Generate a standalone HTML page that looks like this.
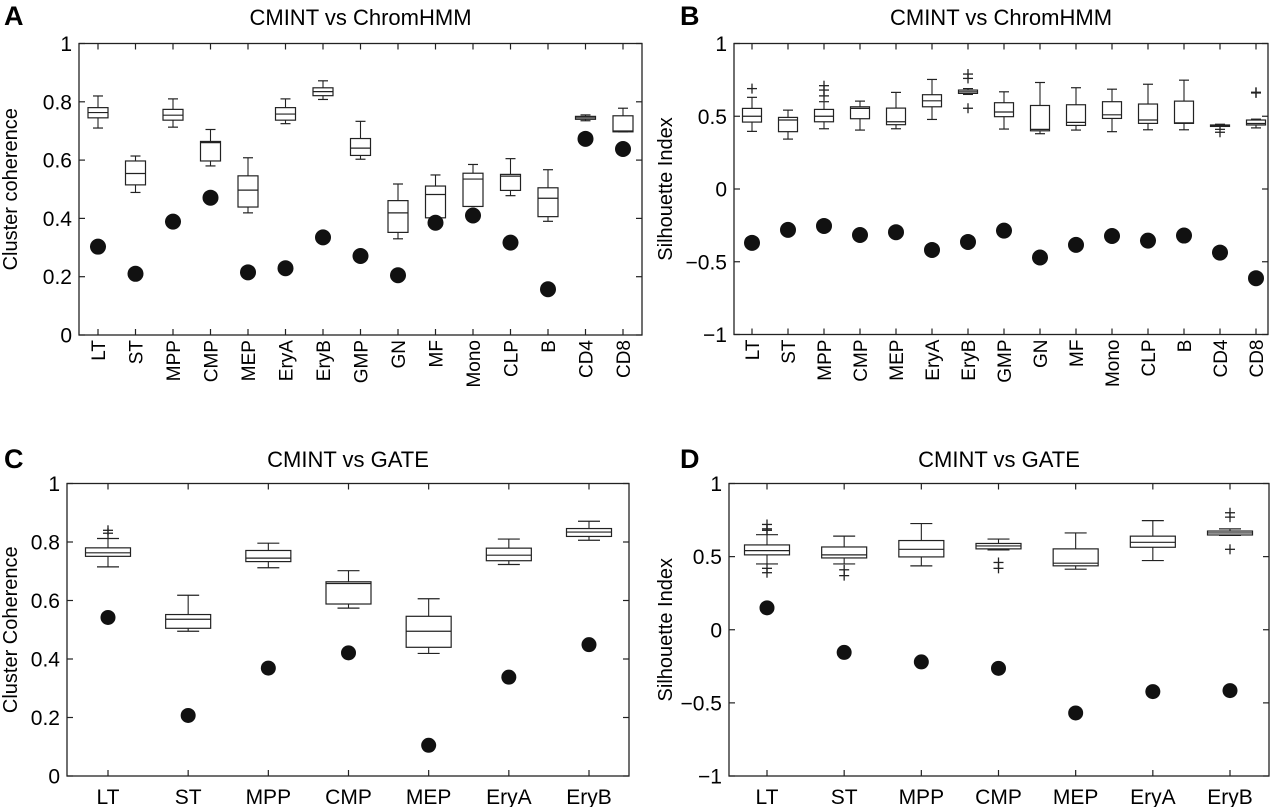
<!DOCTYPE html>
<html><head><meta charset="utf-8"><style>
body{margin:0;background:#fff;}
svg{display:block;font-family:"Liberation Sans",Arial,sans-serif;}
</style></head><body>
<svg id="fig" width="1280" height="807" viewBox="0 0 1280 807" xmlns="http://www.w3.org/2000/svg">
<g id="panels"></g>
</svg>
<script>
// ---------- Panel A data ----------
const catsA = ["LT","ST","MPP","CMP","MEP","EryA","EryB","GMP","GN","MF","Mono","CLP","B","CD4","CD8"];
const loWA = [0.71,0.489,0.713,0.58,0.419,0.725,0.808,0.603,0.33,0.402,0.441,0.478,0.39,0.735,0.697];
const q1A  = [0.745,0.515,0.737,0.597,0.439,0.737,0.821,0.616,0.352,0.402,0.441,0.496,0.406,0.74,0.697];
const medA = [0.763,0.554,0.754,0.66,0.497,0.758,0.835,0.641,0.419,0.482,0.535,0.545,0.469,0.745,0.70];
const q3A  = [0.78,0.597,0.774,0.664,0.546,0.78,0.848,0.674,0.461,0.511,0.555,0.551,0.505,0.75,0.752];
const hiWA = [0.82,0.614,0.81,0.705,0.608,0.81,0.872,0.733,0.518,0.549,0.585,0.605,0.567,0.755,0.778];
const dotA = [0.303,0.21,0.389,0.471,0.215,0.229,0.335,0.271,0.205,0.385,0.41,0.317,0.157,0.673,0.638];
const outA = [[],[],[],[],[],[],[],[],[],[],[],[],[],[],[]];
const ticksA = [0,0.2,0.4,0.6,0.8,1];
const tickLabA = ["0","0.2","0.4","0.6","0.8","1"];

// ---------- Panel B data ----------
const catsB = catsA;
const loWB = [0.396,0.343,0.414,0.405,0.414,0.478,0.65,0.412,0.38,0.405,0.394,0.407,0.407,0.41,0.42];
const q1B  = [0.46,0.394,0.462,0.483,0.442,0.565,0.657,0.497,0.40,0.437,0.485,0.451,0.451,0.43,0.44];
const medB = [0.50,0.474,0.50,0.554,0.462,0.606,0.668,0.529,0.41,0.458,0.51,0.474,0.455,0.435,0.45];
const q3B  = [0.554,0.492,0.547,0.565,0.556,0.648,0.68,0.593,0.574,0.579,0.60,0.584,0.604,0.44,0.474];
const hiWB = [0.63,0.542,0.60,0.604,0.664,0.753,0.69,0.668,0.732,0.696,0.686,0.72,0.748,0.445,0.48];
const dotB = [-0.37,-0.281,-0.254,-0.316,-0.297,-0.419,-0.364,-0.286,-0.471,-0.384,-0.323,-0.355,-0.32,-0.437,-0.613];
const outB = [[0.69],[],[0.64,0.68,0.71],[],[],[],[0.79,0.76,0.555],[],[],[],[],[],[],[0.39],[0.665,0.66]];
const ticksB = [-1,-0.5,0,0.5,1];
const tickLabB = ["\u22121","\u22120.5","0","0.5","1"];

// ---------- Panel C data ----------
const catsC = ["LT","ST","MPP","CMP","MEP","EryA","EryB"];
const loWC = [0.715,0.495,0.712,0.574,0.419,0.723,0.806];
const q1C  = [0.751,0.505,0.733,0.588,0.44,0.736,0.819];
const medC = [0.763,0.536,0.745,0.658,0.495,0.755,0.834];
const q3C  = [0.78,0.552,0.771,0.664,0.546,0.779,0.846];
const hiWC = [0.812,0.618,0.796,0.702,0.606,0.81,0.871];
const dotC = [0.542,0.207,0.369,0.421,0.105,0.338,0.449];
const outC = [[0.83,0.84],[],[],[],[],[],[]];
const ticksC = [0,0.2,0.4,0.6,0.8,1];
const tickLabC = ["0","0.2","0.4","0.6","0.8","1"];

// ---------- Panel D data ----------
const catsD = catsC;
const loWD = [0.45,0.45,0.437,0.546,0.414,0.473,0.645];
const q1D  = [0.512,0.491,0.498,0.553,0.437,0.564,0.648];
const medD = [0.541,0.512,0.55,0.573,0.455,0.598,0.662];
const q3D  = [0.58,0.566,0.61,0.59,0.553,0.64,0.675];
const hiWD = [0.65,0.64,0.726,0.62,0.662,0.746,0.69];
const dotD = [0.15,-0.155,-0.22,-0.264,-0.569,-0.423,-0.416];
const outD = [[0.72,0.69,0.68,0.42,0.39],[0.41,0.37],[],[0.46,0.42],[],[],[0.8,0.77,0.55]];
const ticksD = [-1,-0.5,0,0.5,1];
const tickLabD = ["\u22121","\u22120.5","0","0.5","1"];

const NS="http://www.w3.org/2000/svg";
const root=document.getElementById('panels');
function mk(tag,attrs,parent){const e=document.createElementNS(NS,tag);for(const k in attrs)e.setAttribute(k,attrs[k]);(parent||root).appendChild(e);return e;}

function drawPanel(p){
  const g=mk('g',{});
  
  
  const yS=v=>p.y1+(p.ymax-v)/(p.ymax-p.ymin)*(p.y2-p.y1);
  const step=(p.xLast-p.xFirst)/(p.cats.length-1);
  const xS=i=>p.xFirst+i*step;
  const L=mk('text',{x:p.letterX,y:p.letterY,'font-size':27,'font-weight':'bold'},g);L.textContent=p.letter;
  
  
  const T=mk('text',{x:(p.x1+p.x2)/2,y:p.titleY,'font-size':22,'text-anchor':'middle'},g);T.textContent=p.title;
  
  
  const YT=mk('text',{x:0,y:0,'font-size':20,'text-anchor':'middle',transform:`translate(${p.ytX},${(p.y1+p.y2)/2}) rotate(-90)`},g);YT.textContent=p.ytitle;
  
  
  const F=mk('rect',{x:p.x1,y:p.y1,width:p.x2-p.x1,height:p.y2-p.y1,fill:'none',stroke:'#222','stroke-width':1.3},g);
  
  
  p.ticks.forEach((t,i)=>{
    const y=yS(t);
    mk('line',{x1:p.x1,x2:p.x1+6,y1:y,y2:y,stroke:'#222','stroke-width':1.2},g);
    mk('line',{x1:p.x2,x2:p.x2-6,y1:y,y2:y,stroke:'#222','stroke-width':1.2},g);
    const tl=mk('text',{x:p.x1-7,y:y+7.5,'font-size':21,'text-anchor':'end'},g);tl.textContent=p.tickLab[i];
    
    
  });
  p.cats.forEach((c,i)=>{
    const x=xS(i);
    mk('line',{x1:x,x2:x,y1:p.y2,y2:p.y2-6,stroke:'#222','stroke-width':1.2},g);
    mk('line',{x1:x,x2:x,y1:p.y1,y2:p.y1+6,stroke:'#222','stroke-width':1.2},g);
    let lab;
    if(p.rot){lab=mk('text',{x:0,y:0,'font-size':19,'text-anchor':'end',transform:`translate(${x+7},${p.y2+5}) rotate(-90)`},g);}
    else{lab=mk('text',{x:x,y:p.y2+28,'font-size':21,'text-anchor':'middle'},g);}
    lab.textContent=c;
    
    
    const bg=mk('g',{},g);
    
    
    const hw=p.bw/2, cw=p.cw/2;
    mk('line',{x1:x,x2:x,y1:yS(p.hiW[i]),y2:yS(p.q3[i]),stroke:'#222','stroke-width':1.1},bg);
    mk('line',{x1:x,x2:x,y1:yS(p.loW[i]),y2:yS(p.q1[i]),stroke:'#222','stroke-width':1.1},bg);
    mk('line',{x1:x-cw,x2:x+cw,y1:yS(p.hiW[i]),y2:yS(p.hiW[i]),stroke:'#222','stroke-width':1.2},bg);
    mk('line',{x1:x-cw,x2:x+cw,y1:yS(p.loW[i]),y2:yS(p.loW[i]),stroke:'#222','stroke-width':1.2},bg);
    mk('rect',{x:x-hw,y:yS(p.q3[i]),width:p.bw,height:Math.max(1,yS(p.q1[i])-yS(p.q3[i])),fill:'#fff',stroke:'#222','stroke-width':1.2},bg);
    mk('line',{x1:x-hw,x2:x+hw,y1:yS(p.med[i]),y2:yS(p.med[i]),stroke:'#222','stroke-width':1.2},bg);
    p.out[i].forEach(o=>{
      const oy=yS(o);
      mk('line',{x1:x-5,x2:x+5,y1:oy,y2:oy,stroke:'#222','stroke-width':1.3},bg);
      mk('line',{x1:x,x2:x,y1:oy-5,y2:oy+5,stroke:'#222','stroke-width':1.3},bg);
    });
    const d=mk('circle',{cx:x,cy:yS(p.dot[i]),r:p.r,fill:'#111'},g);
    
    
  });
}

drawPanel({id:'panel-a',letter:'A',letterX:4,letterY:25,title:'CMINT vs ChromHMM',titleY:25,ytitle:'Cluster coherence',ytX:17,
  x1:79,x2:642,y1:43.5,y2:335,ymin:0,ymax:1,xFirst:98,xLast:623,rot:true,bw:20,cw:10,r:8,
  cats:catsA,loW:loWA,q1:q1A,med:medA,q3:q3A,hiW:hiWA,dot:dotA,out:outA,ticks:ticksA,tickLab:tickLabA});
drawPanel({id:'panel-b',letter:'B',letterX:680,letterY:25,title:'CMINT vs ChromHMM',titleY:25,ytitle:'Silhouette Index',ytX:672,
  x1:734,x2:1268,y1:43.5,y2:334.5,ymin:-1,ymax:1,xFirst:752,xLast:1256,rot:true,bw:19,cw:10,r:8,
  cats:catsB,loW:loWB,q1:q1B,med:medB,q3:q3B,hiW:hiWB,dot:dotB,out:outB,ticks:ticksB,tickLab:tickLabB});
drawPanel({id:'panel-c',letter:'C',letterX:4,letterY:468,title:'CMINT vs GATE',titleY:467,ytitle:'Cluster Coherence',ytX:17,
  x1:67,x2:629,y1:483.5,y2:776,ymin:0,ymax:1,xFirst:108,xLast:589,rot:false,bw:45,cw:22,r:7.5,
  cats:catsC,loW:loWC,q1:q1C,med:medC,q3:q3C,hiW:hiWC,dot:dotC,out:outC,ticks:ticksC,tickLab:tickLabC});
drawPanel({id:'panel-d',letter:'D',letterX:680,letterY:468,title:'CMINT vs GATE',titleY:467,ytitle:'Silhouette Index',ytX:672,
  x1:729,x2:1269,y1:483.5,y2:776,ymin:-1,ymax:1,xFirst:767,xLast:1230,rot:false,bw:45,cw:22,r:7.5,
  cats:catsD,loW:loWD,q1:q1D,med:medD,q3:q3D,hiW:hiWD,dot:dotD,out:outD,ticks:ticksD,tickLab:tickLabD});
</script>
</body></html>
